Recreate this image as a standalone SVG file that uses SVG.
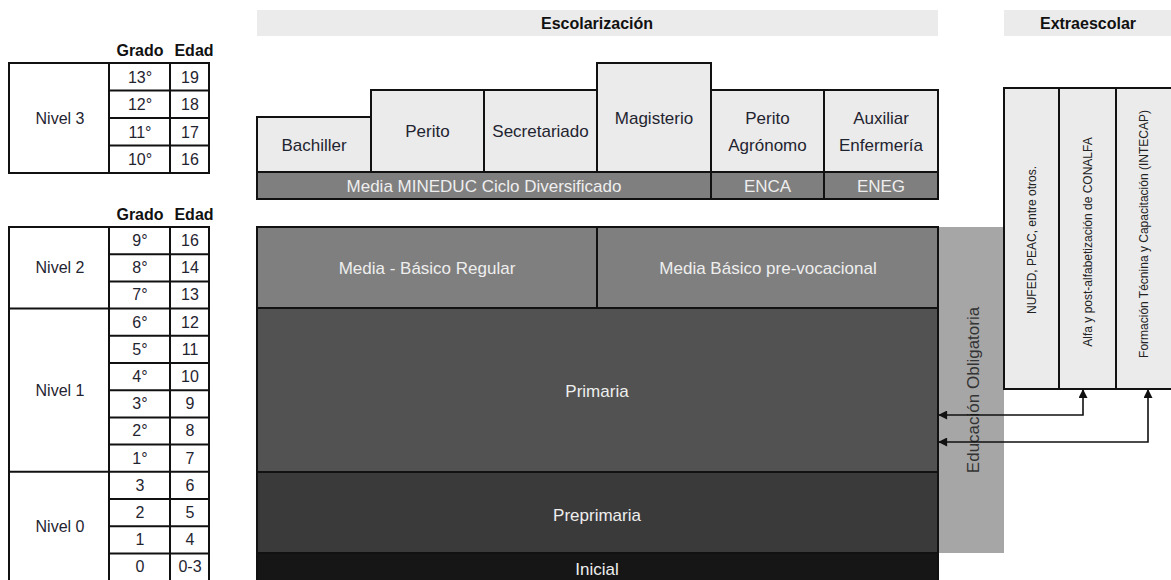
<svg xmlns="http://www.w3.org/2000/svg" width="1171" height="580" viewBox="0 0 1171 580">
<defs>
<style>
text{font-family:"Liberation Sans",Arial,sans-serif;}
.t{font-size:16px;fill:#1f2430;text-anchor:middle;}
.b{font-size:17px;fill:#1f2430;text-anchor:middle;}
.h{font-size:16px;font-weight:bold;fill:#111;text-anchor:middle;}
.w{font-size:17px;fill:#eeeeee;text-anchor:middle;}
.v{font-size:12px;fill:#222;text-anchor:middle;}
.ln{stroke:#111;stroke-width:2;fill:none;}
.lb{fill:#ebebeb;stroke:#111;stroke-width:2;}
.hdr{fill:#ebebeb;}
.con{stroke:#111;stroke-width:1.6;fill:none;marker-start:url(#ah);marker-end:url(#ah);}
</style>
<marker id="ah" viewBox="0 0 10 10" refX="9" refY="5" markerWidth="10" markerHeight="9" markerUnits="userSpaceOnUse" orient="auto-start-reverse">
<path d="M0,0 L10,5 L0,10 z" fill="#111"/>
</marker>
</defs>
<rect width="1171" height="580" fill="#ffffff"/>

<g id="tabla-superior">
<text class="h" x="140" y="56">Grado</text>
<text class="h" x="194" y="56">Edad</text>
<rect class="ln" x="9" y="63" width="200" height="110"/>
<line class="ln" x1="109" y1="63" x2="109" y2="173"/>
<line class="ln" x1="170" y1="63" x2="170" y2="173"/>
<line class="ln" x1="109" y1="90.5" x2="209" y2="90.5"/>
<line class="ln" x1="109" y1="118" x2="209" y2="118"/>
<line class="ln" x1="109" y1="145.5" x2="209" y2="145.5"/>
<text class="t" x="60" y="124">Nivel 3</text>
<text class="t" x="140" y="82.5">13°</text><text class="t" x="190" y="82.5">19</text>
<text class="t" x="140" y="110">12°</text><text class="t" x="190" y="110">18</text>
<text class="t" x="140" y="137.5">11°</text><text class="t" x="190" y="137.5">17</text>
<text class="t" x="140" y="165">10°</text><text class="t" x="190" y="165">16</text>
</g>

<g id="tabla-inferior">
<text class="h" x="140" y="220">Grado</text>
<text class="h" x="194" y="220">Edad</text>
<rect class="ln" x="9" y="227" width="200" height="360"/>
<line class="ln" x1="109" y1="227" x2="109" y2="580"/>
<line class="ln" x1="170" y1="227" x2="170" y2="580"/>
<line class="ln" x1="109" y1="254.2" x2="209" y2="254.2"/>
<line class="ln" x1="109" y1="281.4" x2="209" y2="281.4"/>
<line class="ln" x1="9" y1="308.6" x2="209" y2="308.6"/>
<line class="ln" x1="109" y1="335.8" x2="209" y2="335.8"/>
<line class="ln" x1="109" y1="363" x2="209" y2="363"/>
<line class="ln" x1="109" y1="390.2" x2="209" y2="390.2"/>
<line class="ln" x1="109" y1="417.4" x2="209" y2="417.4"/>
<line class="ln" x1="109" y1="444.6" x2="209" y2="444.6"/>
<line class="ln" x1="9" y1="471.8" x2="209" y2="471.8"/>
<line class="ln" x1="109" y1="499" x2="209" y2="499"/>
<line class="ln" x1="109" y1="526.2" x2="209" y2="526.2"/>
<line class="ln" x1="109" y1="553.4" x2="209" y2="553.4"/>
<text class="t" x="60" y="273">Nivel 2</text>
<text class="t" x="60" y="396">Nivel 1</text>
<text class="t" x="60" y="532">Nivel 0</text>
<text class="t" x="140" y="246">9°</text><text class="t" x="190" y="246">16</text>
<text class="t" x="140" y="273.2">8°</text><text class="t" x="190" y="273.2">14</text>
<text class="t" x="140" y="300.4">7°</text><text class="t" x="190" y="300.4">13</text>
<text class="t" x="140" y="327.6">6°</text><text class="t" x="190" y="327.6">12</text>
<text class="t" x="140" y="354.8">5°</text><text class="t" x="190" y="354.8">11</text>
<text class="t" x="140" y="382">4°</text><text class="t" x="190" y="382">10</text>
<text class="t" x="140" y="409.2">3°</text><text class="t" x="190" y="409.2">9</text>
<text class="t" x="140" y="436.4">2°</text><text class="t" x="190" y="436.4">8</text>
<text class="t" x="140" y="463.6">1°</text><text class="t" x="190" y="463.6">7</text>
<text class="t" x="140" y="490.8">3</text><text class="t" x="190" y="490.8">6</text>
<text class="t" x="140" y="518">2</text><text class="t" x="190" y="518">5</text>
<text class="t" x="140" y="545.2">1</text><text class="t" x="190" y="545.2">4</text>
<text class="t" x="140" y="572.4">0</text><text class="t" x="190" y="572.4">0-3</text>
</g>

<g id="escolarizacion-titulo">
<rect class="hdr" x="257" y="10" width="681" height="26"/>
<text class="h" x="597" y="29">Escolarización</text>
</g>
<g id="extraescolar-titulo">
<rect class="hdr" x="1004" y="10" width="167" height="26"/>
<text class="h" x="1088" y="29">Extraescolar</text>
</g>

<g id="educacion-obligatoria">
<rect x="938" y="227" width="66" height="326" fill="#a6a6a6"/>
<text transform="translate(979,390) rotate(-90)" style="font-size:17px;fill:#333;text-anchor:middle;">Educación Obligatoria</text>
</g>

<g id="bachiller">
<rect class="lb" x="257" y="117" width="114" height="55"/>
<text class="b" x="314" y="151">Bachiller</text>
</g>
<g id="perito">
<rect class="lb" x="371" y="90" width="113" height="82"/>
<text class="b" x="427.5" y="137">Perito</text>
</g>
<g id="secretariado">
<rect class="lb" x="484" y="90" width="113" height="82"/>
<text class="b" x="540.5" y="137">Secretariado</text>
</g>
<g id="magisterio">
<rect class="lb" x="597" y="63" width="114" height="109"/>
<text class="b" x="654" y="124">Magisterio</text>
</g>
<g id="perito-agronomo">
<rect class="lb" x="711" y="90" width="113" height="82"/>
<text class="b" x="767.5" y="124">Perito</text>
<text class="b" x="767.5" y="151">Agrónomo</text>
</g>
<g id="auxiliar-enfermeria">
<rect class="lb" x="824" y="90" width="114" height="82"/>
<text class="b" x="881" y="124">Auxiliar</text>
<text class="b" x="881" y="151">Enfermería</text>
</g>

<g id="media-mineduc">
<rect x="257" y="172" width="454" height="27" fill="#7f7f7f" stroke="#111" stroke-width="2"/>
<text class="w" x="484" y="191.5">Media MINEDUC Ciclo Diversificado</text>
</g>
<g id="enca">
<rect x="711" y="172" width="113" height="27" fill="#7f7f7f" stroke="#111" stroke-width="2"/>
<text class="w" x="767.5" y="191.5">ENCA</text>
</g>
<g id="eneg">
<rect x="824" y="172" width="114" height="27" fill="#7f7f7f" stroke="#111" stroke-width="2"/>
<text class="w" x="881" y="191.5">ENEG</text>
</g>

<g id="media-basico-regular">
<rect x="257" y="227" width="340" height="81" fill="#7f7f7f" stroke="#111" stroke-width="2"/>
<text class="w" x="427" y="274">Media - Básico Regular</text>
</g>
<g id="media-basico-prevocacional">
<rect x="597" y="227" width="341" height="81" fill="#7f7f7f" stroke="#111" stroke-width="2"/>
<text class="w" x="768" y="274">Media Básico pre-vocacional</text>
</g>
<g id="primaria">
<rect x="257" y="308" width="681" height="164" fill="#525252" stroke="#111" stroke-width="2"/>
<text class="w" x="597" y="397">Primaria</text>
</g>
<g id="preprimaria">
<rect x="257" y="472" width="681" height="81" fill="#3b3a3b" stroke="#111" stroke-width="2"/>
<text class="w" x="597" y="521">Preprimaria</text>
</g>
<g id="inicial">
<rect x="257" y="553" width="681" height="30" fill="#161616" stroke="#111" stroke-width="2"/>
<text class="w" x="597" y="575">Inicial</text>
</g>

<g id="nufed">
<rect class="lb" x="1004" y="88" width="55" height="301"/>
<text class="v" transform="translate(1036,240) rotate(-90)">NUFED, PEAC, entre otros.</text>
</g>
<g id="conalfa">
<rect class="lb" x="1059" y="88" width="57" height="301"/>
<text class="v" transform="translate(1092,242) rotate(-90)">Alfa y post-alfabetización de CONALFA</text>
</g>
<g id="intecap">
<rect class="lb" x="1116" y="88" width="57" height="301"/>
<text class="v" transform="translate(1148,234) rotate(-90)">Formación Técnina y Capacitación (INTECAP)</text>
</g>

<g id="conectores">
<path class="con" d="M1083,390 V415 H939"/>
<path class="con" d="M1148,390 V442 H939"/>
</g>
</svg>
